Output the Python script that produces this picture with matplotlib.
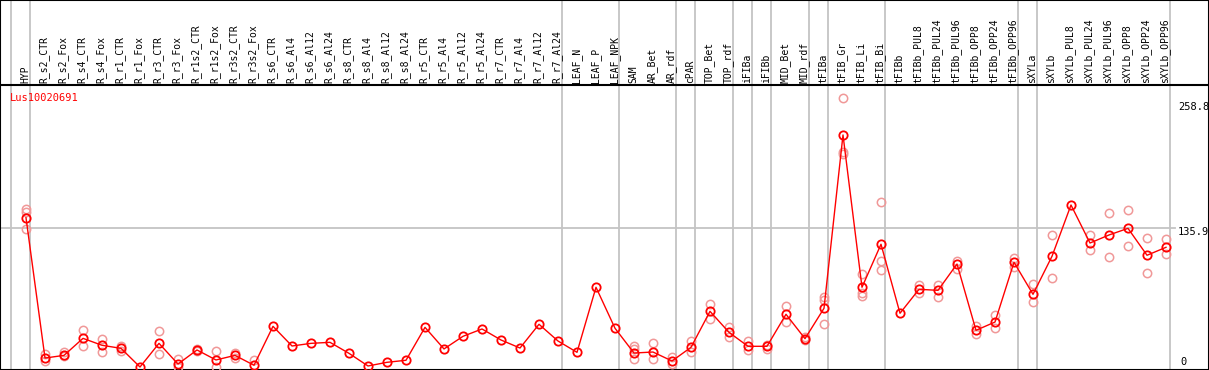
import matplotlib.pyplot as plt
import numpy as np

gene = 'Lus10020691'

samples = ['HYP', 'R_s2_CTR', 'R_s2_Fox', 'R_s4_CTR', 'R_s4_Fox', 'R_r1_CTR', 'R_r1_Fox',
           'R_r3_CTR', 'R_r3_Fox', 'R_r1s2_CTR', 'R_r1s2_Fox', 'R_r3s2_CTR', 'R_r3s2_Fox',
           'R_s6_CTR', 'R_s6_Al4', 'R_s6_Al12', 'R_s6_Al24', 'R_s8_CTR', 'R_s8_Al4',
           'R_s8_Al12', 'R_s8_Al24', 'R_r5_CTR', 'R_r5_Al4', 'R_r5_Al12', 'R_r5_Al24',
           'R_r7_CTR', 'R_r7_Al4', 'R_r7_Al12', 'R_r7_Al24', 'LEAF_N', 'LEAF_P', 'LEAF_NPK',
           'SAM', 'AR_Bet', 'AR_rdf', 'cPAR', 'TOP_Bet', 'TOP_rdf', 'iFIBa', 'iFIBb',
           'MID_Bet', 'MID_rdf', 'tFIBa', 'tFIB_Gr', 'tFIB_Li', 'tFIB_Bi', 'tFIBb',
           'tFIBb_PUL8', 'tFIBb_PUL24', 'tFIBb_PUL96', 'tFIBb_OPP8', 'tFIBb_OPP24',
           'tFIBb_OPP96', 'sXYLa', 'sXYLb', 'sXYLb_PUL8', 'sXYLb_PUL24', 'sXYLb_PUL96',
           'sXYLb_OPP8', 'sXYLb_OPP24', 'sXYLb_OPP96']

# mean expression per sample
means = [146.4, 8.8, 11.4, 28.1, 21.3, 18.3, 0.0, 23.2, 2.9, 16.7, 6.9, 11.4, 1.7,
         39.9, 20.6, 23.2, 24.2, 13.4, 1.0, 4.6, 6.6, 38.9, 17.7, 30.1, 37.3,
         26.5, 18.6, 41.9, 25.5, 14.4, 78.2, 38.0,
         13.7, 14.7, 5.9, 19.3, 54.6, 34.0, 20.3, 20.3, 51.7, 27.8, 57.6, 227.6,
         78.2, 120.4, 52.7, 76.2, 75.2, 101.0, 36.0, 44.1, 102.7,
         71.3, 108.6, 158.9, 121.6, 129.5, 136.0, 109.6, 117.4]

# individual replicates (empty = single sample)
replicates = [[154.7, 152.3, 135.1], [12.7, 5.6], [14.4, 10.8], [36.0, 20.3], [27.2, 14.4],
              [20.6, 16.0], [], [35.3, 12.4], [8.2, 0.0], [18.0, 15.4], [15.7, 0.0],
              [14.0, 8.8], [6.9], [], [], [], [], [], [], [], [], [], [], [], [],
              [], [], [], [], [], [], [],
              [20.3, 7.6, 17.4], [23.2, 7.6], [10.1, 2.9], [25.8, 14.7], [61.8, 46.8],
              [39.5, 29.1], [25.2, 16.7], [21.6, 18.0], [59.5, 43.8], [29.5, 26.0],
              [68.4, 65.7, 41.9], [263.6, 211.2, 208.9], [91.2, 69.9, 72.5],
              [161.5, 104.0, 94.8], [], [80.7, 72.9], [80.7, 69.0], [104.3, 96.4],
              [40.2, 32.4], [51.0, 38.0], [107.2, 97.8],
              [81.7, 63.5], [129.2, 87.3], [], [129.5, 114.5], [151.0, 107.6],
              [153.7, 118.4], [126.2, 92.2], [125.6, 110.5]]

group_ends = [-1, 0, 28, 31, 34, 35, 37, 38, 39, 41, 42, 45, 52, 53, 60]
tick_vals = [258.8, 135.9, 0]
tick_text = ['258.8', '135.9', '0']

W, H = 1209, 370
fig = plt.figure(figsize=(W / 100, H / 100), dpi=100)
ax = fig.add_axes([0, 0, 1, 1])

# pixel mapping: x = 26 + 19*i, y = 367 - 1.0195*v
sx, x0 = 19.0, 26.0
sy, y0 = 1.0195, 367.0
ax.set_xlim(-x0 / sx, (W - x0) / sx)
ax.set_ylim(-(H - y0) / sy, y0 / sy)
ax.set_xticks([])
ax.set_yticks([])
for s in ax.spines.values():
    s.set_color('black')
    s.set_linewidth(1.5)

mono = 'DejaVu Sans Mono'
grey = '#c4c4c4'

for g in group_ends:
    ax.axvline(g + 4 / sx, color=grey, lw=1.3, zorder=1)

ax.axhline(tick_vals[1], xmin=0, xmax=1175 / W, color=grey, lw=1.3, zorder=1)
ax.plot([0, 1], [1 - 85 / H] * 2, color='black', lw=1.5, transform=ax.transAxes, zorder=2)

x = np.arange(len(samples))
for i, name in enumerate(samples):
    ax.text(i - 0.05, 1 - 83 / H, name, rotation=90, ha='center', va='bottom',
            fontsize=7, family=mono, transform=ax.get_xaxis_transform())

rx = [i for i, r in enumerate(replicates) for _ in r]
ry = [v for r in replicates for v in r]
ax.plot(rx, ry, 'o', ls='none', ms=6, mfc='none', mec='#f09898', mew=1.1, zorder=3)
ax.plot(x, means, '-', color='red', lw=1, zorder=4)
ax.plot(x, means, 'o', ls='none', ms=6, mfc='none', mec='red', mew=1.3, zorder=5)

ax.text(-16 / sx, 1 - 97.7 / H, gene, color='red', fontsize=7.5, family=mono,
        ha='left', va='center', transform=ax.get_xaxis_transform())

tx = (1178 - x0) / sx
offs = [3.4, 3.4, -5.3]
for v, t, o in zip(tick_vals, tick_text, offs):
    ax.text(tx if t != '0' else (1180 - x0) / sx, v - o / sy, t, fontsize=7.5,
            family=mono, ha='left', va='center')

fig.savefig('out.png', dpi=100)
